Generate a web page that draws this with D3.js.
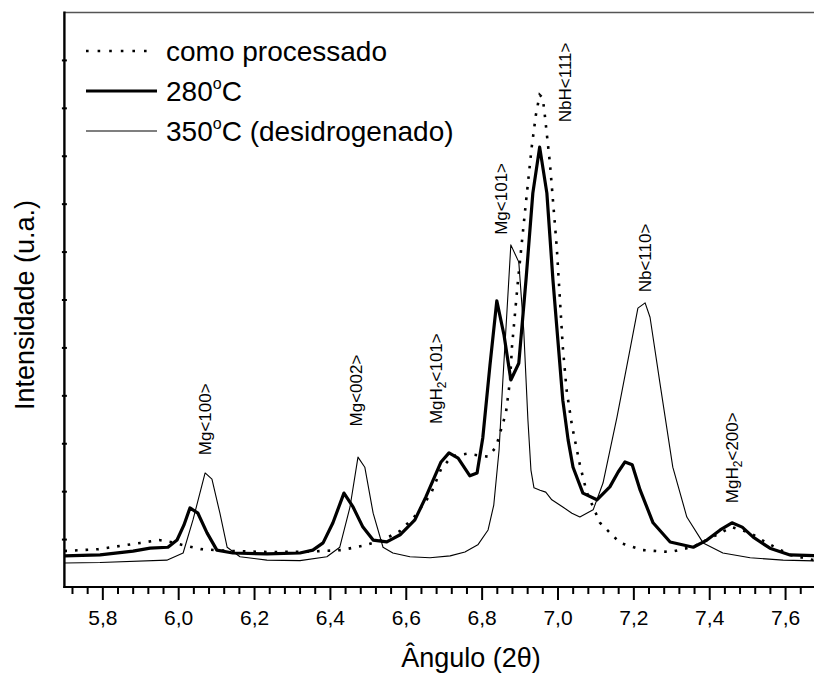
<!DOCTYPE html>
<html><head><meta charset="utf-8">
<script src="https://cdn.jsdelivr.net/npm/d3@7"></script>
<style>
body{margin:0;background:#fff;}
text{font-family:"Liberation Sans",Arial,Helvetica,sans-serif;fill:#000;}
</style>
</head><body>
<svg id="chart" width="814" height="674"></svg>
<script>
// ---- data (2θ in degrees, intensity in arbitrary units) ----
const angComo = [5.70,5.79,5.85,5.90,5.95,5.98,6.02,6.06,6.14,6.24,6.35,6.43,6.487,6.542,6.585,6.624,6.666,6.693,6.722,6.761,6.817,6.838,6.851,6.864,6.875,6.880,6.896,6.914,6.932,6.943,6.953,6.961,6.966,6.980,6.998,7.014,7.024,7.038,7.059,7.077,7.112,7.165,7.225,7.297,7.358,7.420,7.460,7.508,7.552,7.613,7.676,7.700];
const intComo = [0.75,0.79,0.86,0.92,0.98,0.94,0.86,0.79,0.75,0.73,0.74,0.77,0.86,0.99,1.17,1.48,1.94,2.46,2.73,2.78,2.72,2.92,3.28,3.63,4.32,5.01,6.41,7.81,9.18,9.85,10.27,10.21,9.89,8.85,7.10,5.01,4.11,3.38,2.55,1.98,1.34,0.92,0.77,0.73,0.84,1.09,1.25,1.13,0.92,0.67,0.56,0.54];

const ang280 = [5.70,5.794,5.881,5.926,5.973,5.997,6.015,6.031,6.052,6.076,6.102,6.144,6.234,6.321,6.355,6.382,6.408,6.437,6.461,6.487,6.514,6.550,6.585,6.624,6.653,6.693,6.714,6.738,6.769,6.788,6.803,6.822,6.840,6.859,6.877,6.898,6.917,6.935,6.953,6.972,6.988,7.001,7.014,7.028,7.041,7.067,7.104,7.138,7.160,7.178,7.197,7.218,7.252,7.297,7.358,7.394,7.429,7.460,7.487,7.516,7.560,7.613,7.700];
const int280 = [0.65,0.67,0.75,0.81,0.83,0.98,1.29,1.65,1.54,1.13,0.77,0.71,0.69,0.71,0.77,0.92,1.34,1.96,1.67,1.25,0.98,0.94,1.09,1.40,1.88,2.61,2.80,2.69,2.32,2.38,3.11,4.63,5.97,5.26,4.32,4.67,6.41,8.22,9.18,8.22,6.41,5.15,3.90,3.07,2.50,1.96,1.82,2.09,2.40,2.61,2.55,2.02,1.34,0.94,0.83,0.98,1.19,1.34,1.25,1.04,0.81,0.67,0.65];

const ang350 = [5.70,5.794,5.970,6.013,6.039,6.071,6.089,6.110,6.129,6.163,6.234,6.321,6.392,6.426,6.453,6.474,6.492,6.514,6.540,6.566,6.611,6.664,6.717,6.756,6.790,6.817,6.832,6.846,6.856,6.867,6.877,6.898,6.911,6.922,6.930,6.938,6.954,6.969,6.985,7.014,7.038,7.059,7.094,7.120,7.157,7.191,7.212,7.231,7.244,7.270,7.304,7.341,7.384,7.436,7.508,7.595,7.700];
const int350 = [0.50,0.51,0.56,0.71,1.40,2.38,2.25,1.54,0.83,0.63,0.56,0.55,0.63,0.83,1.67,2.71,2.50,1.54,0.83,0.71,0.63,0.61,0.65,0.73,0.88,1.19,1.71,2.86,4.32,5.78,7.14,6.78,5.36,3.49,2.44,2.07,2.02,1.98,1.82,1.67,1.54,1.46,1.61,2.17,3.55,4.95,5.82,5.93,5.63,4.26,2.50,1.46,0.92,0.71,0.61,0.56,0.54];

const majorTicks = [5.8,6.0,6.2,6.4,6.6,6.8,7.0,7.2,7.4,7.6];
const majorTickLabels = ["5,8","6,0","6,2","6,4","6,6","6,8","7,0","7,2","7,4","7,6"];
const yTicks = [1,2,3,4,5,6,7,8,9,10,11];

const peakLabels = [
  {main:"Mg<100>", ang:6.07, inten:2.75},
  {main:"Mg<002>", ang:6.47, inten:3.35},
  {main:"MgH", sub:"2", rest:"<101>", ang:6.68, inten:3.4},
  {main:"Mg<101>", ang:6.85, inten:7.35},
  {main:"NbH<111>", ang:7.02, inten:9.7},
  {main:"Nb<110>", ang:7.23, inten:6.15},
  {main:"MgH", sub:"2", rest:"<200>", ang:7.46, inten:1.75}
];

const legendItems = [
  {label:"como processado", type:"dot"},
  {label:"280", sup:"o", rest:"C", type:"thick"},
  {label:"350", sup:"o", rest:"C (desidrogenado)", type:"thin"}
];

// ---- drawing ----
const svg = d3.select("#chart");
const x = d3.scaleLinear().domain([5.7,7.7]).range([64.4,823]);
const y = d3.scaleLinear().domain([0,12]).range([587,12]);

const styles = {
  dot:  {w:2.6, dash:"2.6 8"},
  thick:{w:3.2, dash:null},
  thin: {w:1.1, dash:null}
};

// frame
svg.append("line").attr("x1",64.4).attr("x2",823).attr("y1",12.5).attr("y2",12.5)
  .attr("stroke","#555").attr("stroke-width",1.3);

const line = d3.line().x(d=>x(d[0])).y(d=>y(d[1]));
function series(a,b){return a.map((v,i)=>[v,b[i]]);}

const g = svg.append("g");
g.append("path").datum(series(ang350,int350)).attr("d",line)
  .attr("fill","none").attr("stroke","#000").attr("stroke-width",styles.thin.w).attr("stroke-linejoin","round");
g.append("path").datum(series(angComo,intComo)).attr("d",line)
  .attr("fill","none").attr("stroke","#000").attr("stroke-width",styles.dot.w).attr("stroke-dasharray",styles.dot.dash);
g.append("path").datum(series(ang280,int280)).attr("d",line)
  .attr("fill","none").attr("stroke","#000").attr("stroke-width",styles.thick.w).attr("stroke-linejoin","round");

// x axis
const minor = d3.range(5.72,7.69,0.04).filter(v=>!majorTicks.some(m=>Math.abs(m-v)<1e-6));
const xMinor = svg.append("g").attr("transform","translate(0,587)")
  .call(d3.axisBottom(x).tickValues(minor).tickSize(7).tickFormat(""));
const xMajor = svg.append("g").attr("transform","translate(0,587)")
  .call(d3.axisBottom(x).tickValues(majorTicks).tickSize(13).tickPadding(10)
    .tickFormat((d,i)=>majorTickLabels[i]));
[xMinor,xMajor].forEach(a=>{a.select(".domain").remove();a.selectAll("line").attr("stroke","#000").attr("stroke-width",2);});
xMajor.selectAll("text").attr("font-size",21).attr("font-family","Liberation Sans, Arial, sans-serif");
svg.append("line").attr("x1",63.4).attr("x2",823).attr("y1",587).attr("y2",587)
  .attr("stroke","#000").attr("stroke-width",2.2);

// y axis
const yl = svg.append("g").attr("transform","translate(64.4,0)")
  .call(d3.axisLeft(y).tickValues(yTicks).tickSize(2.5).tickFormat(""));
const yr = svg.append("g").attr("transform","translate(64.4,0)")
  .call(d3.axisRight(y).tickValues(yTicks).tickSize(2.5).tickFormat(""));
[yl,yr].forEach(a=>{a.select(".domain").remove();a.selectAll("line").attr("stroke","#000").attr("stroke-width",2);});
svg.append("line").attr("x1",64.4).attr("x2",64.4).attr("y1",11.5).attr("y2",588)
  .attr("stroke","#000").attr("stroke-width",2.4);

// axis titles
svg.append("text").attr("x",471).attr("y",667).attr("text-anchor","middle")
  .attr("font-size",27).text("Ângulo (2θ)");
svg.append("text").attr("transform","translate(34,305) rotate(-90)").attr("text-anchor","middle")
  .attr("font-size",27).text("Intensidade (u.a.)");

// peak labels
peakLabels.forEach(p=>{
  const t = svg.append("text")
    .attr("transform",`translate(${x(p.ang)+6},${y(p.inten)}) rotate(-90)`)
    .attr("font-size",17);
  t.append("tspan").text(p.main);
  if(p.sub){
    t.append("tspan").attr("font-size",12).attr("dy",4).text(p.sub);
    t.append("tspan").attr("dy",-4).text(p.rest);
  }
});

// legend
legendItems.forEach((it,i)=>{
  const ly = 51 + i*40;
  const st = styles[it.type];
  svg.append("line").attr("x1",86).attr("x2",it.type==="dot"?152:157).attr("y1",ly).attr("y2",ly)
    .attr("stroke","#000").attr("stroke-width",st.w)
    .attr("stroke-dasharray", it.type==="dot" ? "2.6 9" : null);
  const t = svg.append("text").attr("x",166).attr("y",ly+10).attr("font-size",28);
  t.append("tspan").text(it.label);
  if(it.sup){
    t.append("tspan").attr("font-size",16).attr("dy",-12).text(it.sup);
    t.append("tspan").attr("dy",12).text(it.rest);
  }
});
</script>
</body></html>
